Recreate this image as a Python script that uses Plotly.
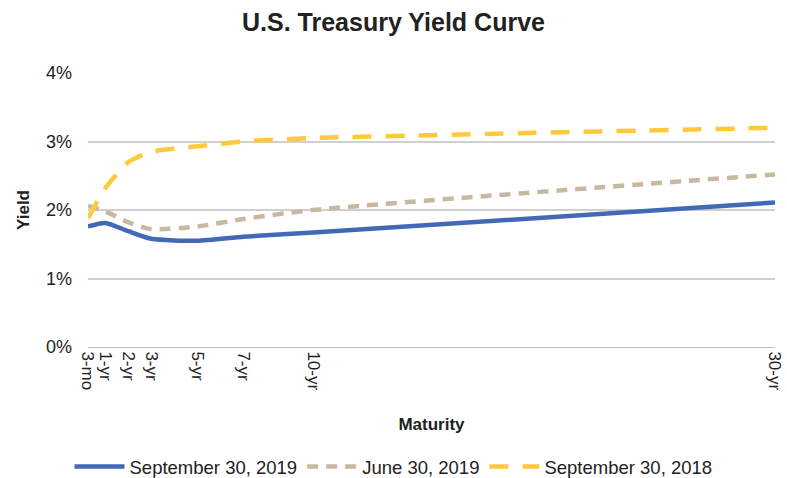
import plotly.graph_objects as go

maturity_years = [0.25, 1, 2, 3, 5, 7, 10, 30]
maturity_labels = ["3-mo", "1-yr", "2-yr", "3-yr", "5-yr", "7-yr", "10-yr", "30-yr"]
sep_2019 = [1.76, 1.81, 1.69, 1.58, 1.55, 1.61, 1.67, 2.11]
jun_2019 = [2.06, 1.98, 1.82, 1.72, 1.76, 1.87, 2.00, 2.52]
sep_2018 = [1.88, 2.32, 2.70, 2.85, 2.93, 3.00, 3.05, 3.20]
y_ticks = [0, 1, 2, 3, 4]
y_tick_labels = ["0%", "1%", "2%", "3%", "4%"]

FONT = "Liberation Sans, Arial, sans-serif"
W, H = 787, 478

fig = go.Figure()
fig.add_trace(go.Scatter(x=maturity_years, y=sep_2019, name="September 30, 2019", mode="lines",
                         line=dict(color="#4169B8", width=4.5, shape="spline", smoothing=0.6)))
fig.add_trace(go.Scatter(x=maturity_years, y=jun_2019, name="June 30, 2019", mode="lines",
                         line=dict(color="#C8B8A0", width=4.5, dash="11px,8px", shape="spline", smoothing=0.6)))
fig.add_trace(go.Scatter(x=maturity_years, y=sep_2018, name="September 30, 2018", mode="lines",
                         line=dict(color="#FFC93C", width=4.5, dash="19px,14px", shape="spline", smoothing=0.6)))

fig.update_layout(
    width=W, height=H,
    margin=dict(l=88, r=12, t=73, b=131, autoexpand=False),
    paper_bgcolor="white", plot_bgcolor="white",
    font=dict(family=FONT, color="#222222", size=17),
    title=dict(text="<b>U.S. Treasury Yield Curve</b>", x=0.5, xanchor="center", y=1 - 22 / H,
               yanchor="middle",
               font=dict(size=25, color="#222222", family=FONT)),
    showlegend=True,
    legend=dict(orientation="h", x=0.5, xanchor="center", xref="container", y=(H - 467) / H,
                yanchor="middle", yref="container",
                font=dict(size=18.5, color="#222222"), itemwidth=50, tracegroupgap=0),
    xaxis=dict(range=[0.25, 30], tickmode="array", tickvals=maturity_years, ticktext=maturity_labels,
               tickangle=90, showgrid=False, zeroline=False, showline=True, linecolor="#BFBFBF",
               ticks="", tickfont=dict(size=17), automargin=False,
               title=dict(text="<b>Maturity</b>", font=dict(size=17), standoff=28)),
    yaxis=dict(range=[0, 4], tickmode="array", tickvals=y_ticks, ticktext=y_tick_labels,
               showgrid=True, gridcolor="#D0D0D0", gridwidth=1.5, zeroline=False, showline=False,
               ticks="", tickfont=dict(size=18), ticklabelstandoff=15, automargin=False,
               title=dict(text="<b>Yield</b>", font=dict(size=17), standoff=12)),
)

fig.write_html("out.html", post_script="document.body.style.margin='0';",
               config={"displayModeBar": False})
